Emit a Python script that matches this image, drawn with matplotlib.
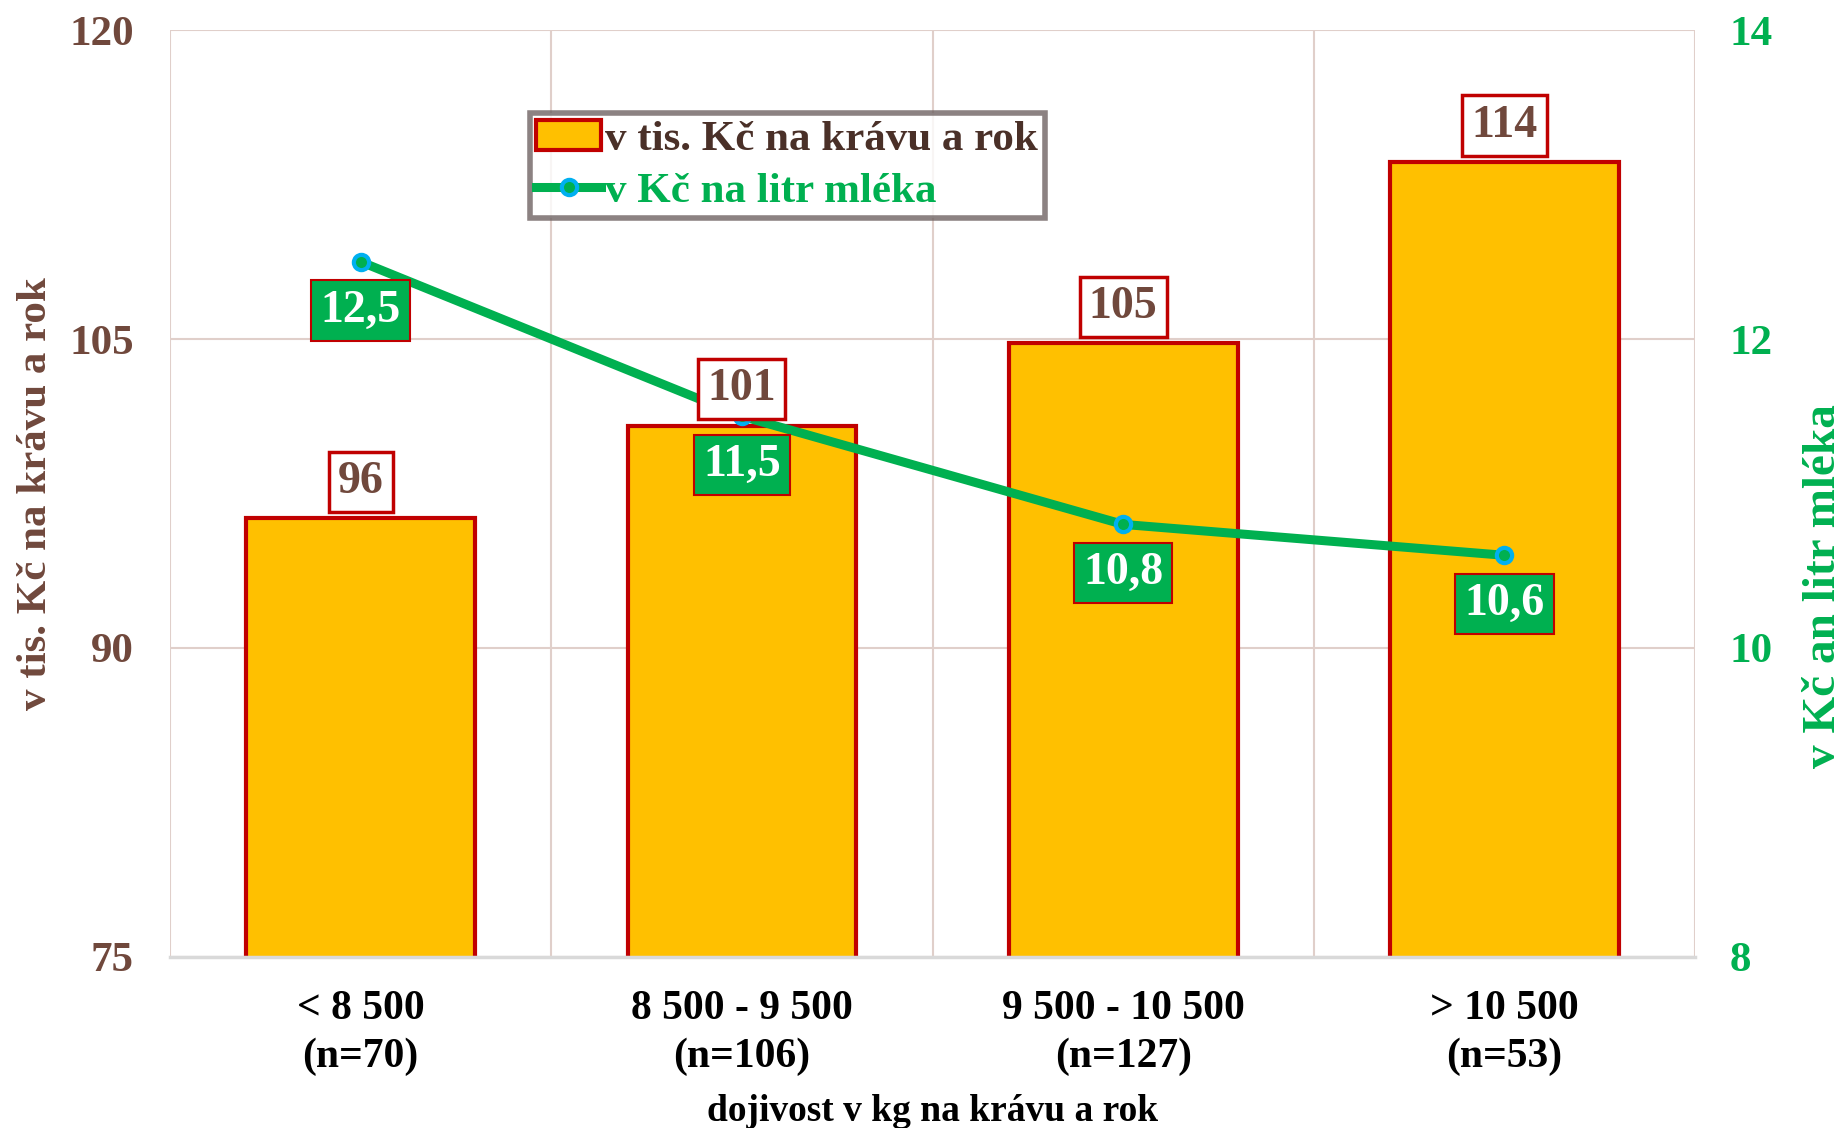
import matplotlib.pyplot as plt
from matplotlib.patches import Patch
from matplotlib.lines import Line2D

# data
categories = ["< 8 500\n(n=70)", "8 500 - 9 500\n(n=106)", "9 500 - 10 500\n(n=127)", "> 10 500\n(n=53)"]
bar_values = [96.3, 100.8, 104.8, 113.6]
bar_labels = ["96", "101", "105", "114"]
line_values = [12.5, 11.5, 10.8, 10.6]
left_ticks = [75, 90, 105, 120]
right_ticks = [8, 10, 12, 14]

brown = "#70483C"
dark_brown = "#4A3028"
green = "#00B050"
red = "#C00000"
yellow = "#FFC000"
cyan = "#00B0F0"
grid_col = "#E0CFCA"

plt.rcParams['font.family'] = ['Liberation Serif', 'DejaVu Serif']
plt.rcParams['font.weight'] = 'bold'
plt.rcParams['axes.labelweight'] = 'bold'

fig = plt.figure(figsize=(18.46, 11.28), dpi=100)
ax = fig.add_axes([0.0921, 0.1516, 0.8261, 0.8218])
x = list(range(len(categories)))

ax.bar(x, bar_values, width=0.6, color=yellow, edgecolor=red, linewidth=3, zorder=2)
ax.set_xlim(-0.5, 3.5)
ax.set_ylim(75, 120)
ax.set_yticks(left_ticks)
ax.set_xticks(x)
ax.set_xticklabels(categories, fontsize=30, color="black", linespacing=1.3)
ax.tick_params(axis='y', length=0, pad=26, labelsize=31, labelcolor=brown)
ax.tick_params(axis='x', length=0, pad=24)
ax.set_xticks([-0.5, 0.5, 1.5, 2.5, 3.5], minor=True)
ax.tick_params(which='minor', length=0)
ax.grid(axis='y', which='major', color=grid_col, linewidth=1.5, zorder=0)
ax.grid(axis='x', which='minor', color=grid_col, linewidth=1.5, zorder=0)
ax.grid(axis='x', which='major', visible=False)
ax.set_axisbelow(True)
for s in ['top', 'left', 'right']:
    ax.spines[s].set_visible(False)
ax.spines['bottom'].set_color('#D9D9D9')
ax.spines['bottom'].set_linewidth(2.5)
ax.set_ylabel("v tis. Kč na krávu a rok", fontsize=31, color=brown, labelpad=10)
ax.set_xlabel("dojivost v kg na krávu a rok", fontsize=27, color="black", labelpad=13)

ax2 = ax.twinx()
ax2.plot(x, line_values, color=green, linewidth=6.5, marker='o', markersize=11,
         markerfacecolor=green, markeredgecolor=cyan, markeredgewidth=3, zorder=3)
ax2.set_ylim(8, 14)
ax2.set_yticks(right_ticks)
ax2.tick_params(axis='y', length=0, pad=25, labelsize=31, labelcolor=green)
for s in ax2.spines.values():
    s.set_visible(False)
ax2.set_ylabel("v Kč an litr mléka", fontsize=34, color=green, rotation=90)
ax2.yaxis.set_label_coords(1.071, 0.40)

# line value labels
for xi, v in zip(x, line_values):
    ax2.annotate(f"{v:.1f}".replace('.', ','), xy=(xi, v), xytext=(0, -20),
                 textcoords='offset points', ha='center', va='top',
                 fontsize=33, color='white', zorder=5,
                 bbox=dict(boxstyle='square,pad=0.2', fc=green, ec=red, lw=1.5))

# bar value labels (drawn on top of the line)
for xi, v, lab in zip(x, bar_values, bar_labels):
    ax2.annotate(lab, xy=(xi, v), xycoords=ax.transData, xytext=(0, 11),
                 textcoords='offset points', ha='center', va='bottom',
                 fontsize=33, color=brown, zorder=6,
                 bbox=dict(boxstyle='square,pad=0.2', fc='white', ec=red, lw=2.5))

handles = [Patch(facecolor=yellow, edgecolor=red, linewidth=3),
           Line2D([0], [0], color=green, linewidth=6.5, marker='o', markersize=11,
                  markerfacecolor=green, markeredgecolor=cyan, markeredgewidth=3)]
leg = ax2.legend(handles, ["v tis. Kč na krávu a rok", "v Kč na litr mléka"],
                 loc='upper left', bbox_to_anchor=(0.236, 0.910), borderaxespad=0,
                 fontsize=31, frameon=True, fancybox=False, handlelength=1.5,
                 handletextpad=0.1, borderpad=0.15, labelspacing=0.3)
leg.get_frame().set_edgecolor('#6F6363')
leg.get_frame().set_linewidth(4)
leg.get_texts()[0].set_color(dark_brown)
leg.get_texts()[1].set_color(green)
leg.set_zorder(10)

fig.savefig("out.png", dpi=100)
